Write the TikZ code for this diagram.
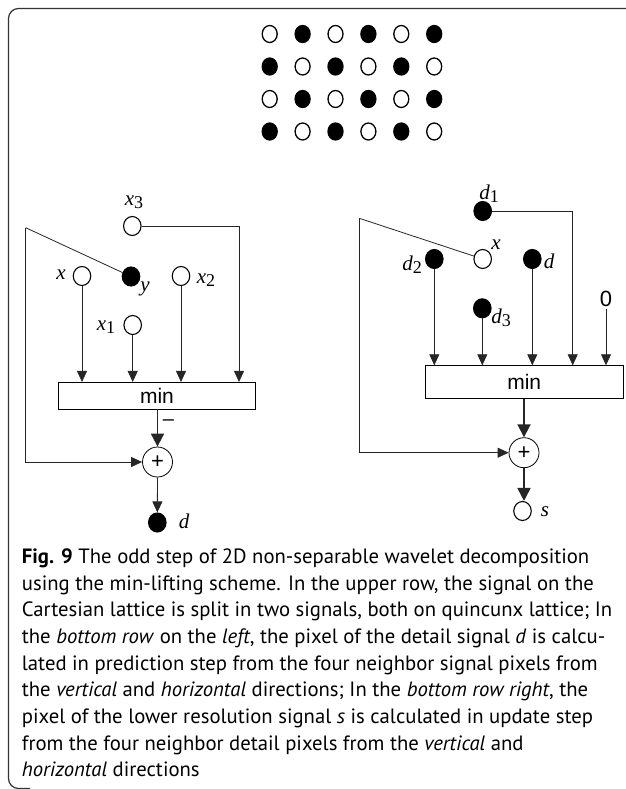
\documentclass[tikz,border=0pt]{standalone}
\usepackage{fontspec}
\setmainfont{Liberation Serif}
\newfontfamily\capfont{PT Sans}
\newfontfamily\sansf{Liberation Sans}
\usetikzlibrary{arrows.meta,shapes.geometric}
\newcommand\sublab[1]{\raisebox{-0.35ex}{\fontsize{18}{18}\selectfont\upshape #1}}
\begin{document}
\begin{tikzpicture}[x=1pt,y=-1pt,
  ln/.style={line width=0.8pt, draw=black!85},
  arr/.style={ln, -{Triangle[length=11pt,width=10pt]}},
  tarr/.style={ln, line width=1.8pt, -{Triangle[length=13pt,width=13pt]}},
  opendot/.style={ellipse, draw, line width=1.1pt, fill=white, minimum width=17.5pt, minimum height=19pt, inner sep=0pt},
  filldot/.style={opendot, fill=black},
  gopen/.style={ellipse, draw, line width=1.3pt, minimum width=15pt, minimum height=17pt, inner sep=0pt},
  gfill/.style={gopen, fill=black},
  lab/.style={font=\fontsize{21}{21}\selectfont\itshape, inner sep=0pt},
  minbox/.style={draw, line width=0.8pt, inner sep=0pt, font=\sansf\fontsize{21}{21}\selectfont},
  plus/.style={circle, draw, line width=0.8pt, minimum size=30pt, inner sep=0pt, font=\sansf\fontsize{22}{22}\selectfont},
  capline/.style={anchor=base west, inner sep=0pt, font=\capfont\fontsize{20.7}{20.7}\selectfont}
]
\useasboundingbox (0,0) rectangle (625,789);
% frame
\draw[line width=1.2pt, black!80, rounded corners=10pt] (630,8.5) -- (8.5,8.5) -- (8.5,788.5) -- (30,788.5);
% lattice
\foreach \r in {0,...,3} {
  \foreach \c in {0,...,5} {
    \pgfmathtruncatemacro{\parity}{mod(\r+\c,2)}
    \ifnum\parity=0
      \node[gopen] (g\r\c) at (269.7+32.9*\c, 34+32.5*\r) {};
    \else
      \node[gfill] (g\r\c) at (269.7+32.9*\c, 34+32.5*\r) {};
    \fi
  }
}
% left diagram
\node[opendot] (x3) at (132.3,226) {};
\node[lab] (x3l) at (134,202) {x\sublab{3}};
\node[filldot] (yy) at (131,276.5) {};
\node[lab] (yl) at (145,289) {y};
\node[opendot] (xx) at (82,276) {};
\node[lab] (xl) at (61,275) {x};
\node[opendot] (x2) at (181,276) {};
\node[lab] (x2l) at (206,280) {x\sublab{2}};
\node[opendot] (x1) at (132.7,325) {};
\node[lab] (x1l) at (106,327) {x\sublab{1}};
\node[minbox, minimum width=197.4pt, minimum height=26.7pt] (minL) at (157,395.7) {min};
\coordinate (l4) at (239,226);
\coordinate (cL) at (25.7,227.7);
\node[plus] (plusL) at (157.5,462) {+};
\node[filldot] (dd) at (157.3,522.5) {};
\node[lab] (ddl) at (184,521) {d};
\node[font=\sansf\fontsize{20}{20}\selectfont, inner sep=0pt] (minus) at (168.5,423) {–};
\draw[arr] (xx) -- (xx |- minL.north);
\draw[arr] (x1) -- (x1 |- minL.north);
\draw[arr] (x2) -- (x2 |- minL.north);
\draw[arr] (x3) -| (l4 |- minL.north);
\draw[ln] (yy) -- (cL);
\draw[arr] (cL) |- (plusL);
\draw[tarr] (minL.south -| plusL) -- (plusL);
\draw[arr] (plusL) -- (dd);
% right diagram
\node[filldot] (d1) at (482.7,211) {};
\node[lab] (d1l) at (489,194) {d\sublab{1}};
\node[opendot] (xr) at (482.7,259) {};
\node[lab] (xrl) at (496,245) {x};
\node[filldot] (d2) at (434.3,259) {};
\node[lab] (d2l) at (412,265) {d\sublab{2}};
\node[filldot] (dr) at (532.3,259) {};
\node[lab] (drl) at (549,261) {d};
\node[filldot] (d3) at (482.3,308.3) {};
\node[lab] (d3l) at (501,318) {d\sublab{3}};
\node[font=\sansf\fontsize{22}{22}\selectfont, inner sep=2pt] (zero) at (606,299) {0};
\node[minbox, minimum width=198.3pt, minimum height=32.6pt] (minR) at (524.2,382) {min};
\coordinate (r4) at (572.7,211);
\coordinate (cR) at (359.3,218.3);
\node[plus] (plusR) at (524,452.7) {+};
\node[opendot] (ss) at (522.5,511) {};
\node[lab] (ssl) at (545,512) {s};
\draw[arr] (d2) -- (d2 |- minR.north);
\draw[arr] (d3) -- (d3 |- minR.north);
\draw[arr] (dr) -- (dr |- minR.north);
\draw[arr] (d1) -| (r4 |- minR.north);
\draw[arr] (zero.south) -- (zero.south |- minR.north);
\draw[ln] (xr) -- (cR);
\draw[arr] (cR) |- (plusR);
\draw[tarr] (minR.south -| plusR) -- (plusR);
\draw[tarr] (plusR) -- (plusR |- ss.north);
% caption
\node[capline] (c1) at (21.7,563.3) {\textbf{Fig. 9} The odd step of 2D non-separable wavelet decomposition};
\node[capline] (c2) at (21.7,590.0) {using the min-lifting scheme. In the upper row, the signal on the};
\node[capline] (c3) at (21.7,616.7) {Cartesian lattice is split in two signals, both on quincunx lattice; In};
\node[capline] (c4) at (21.7,643.4) {the \textit{bottom row} on the \textit{left}, the pixel of the detail signal \textit{d} is calcu-};
\node[capline] (c5) at (21.7,670.1) {lated in prediction step from the four neighbor signal pixels from};
\node[capline] (c6) at (21.7,696.8) {the \textit{vertical} and \textit{horizontal} directions; In the \textit{bottom row right}, the};
\node[capline] (c7) at (21.7,723.5) {pixel of the lower resolution signal \textit{s} is calculated in update step};
\node[capline] (c8) at (21.7,750.2) {from the four neighbor detail pixels from the \textit{vertical} and};
\node[capline] (c9) at (21.7,776.9) {\textit{horizontal} directions};
\end{tikzpicture}
\end{document}
